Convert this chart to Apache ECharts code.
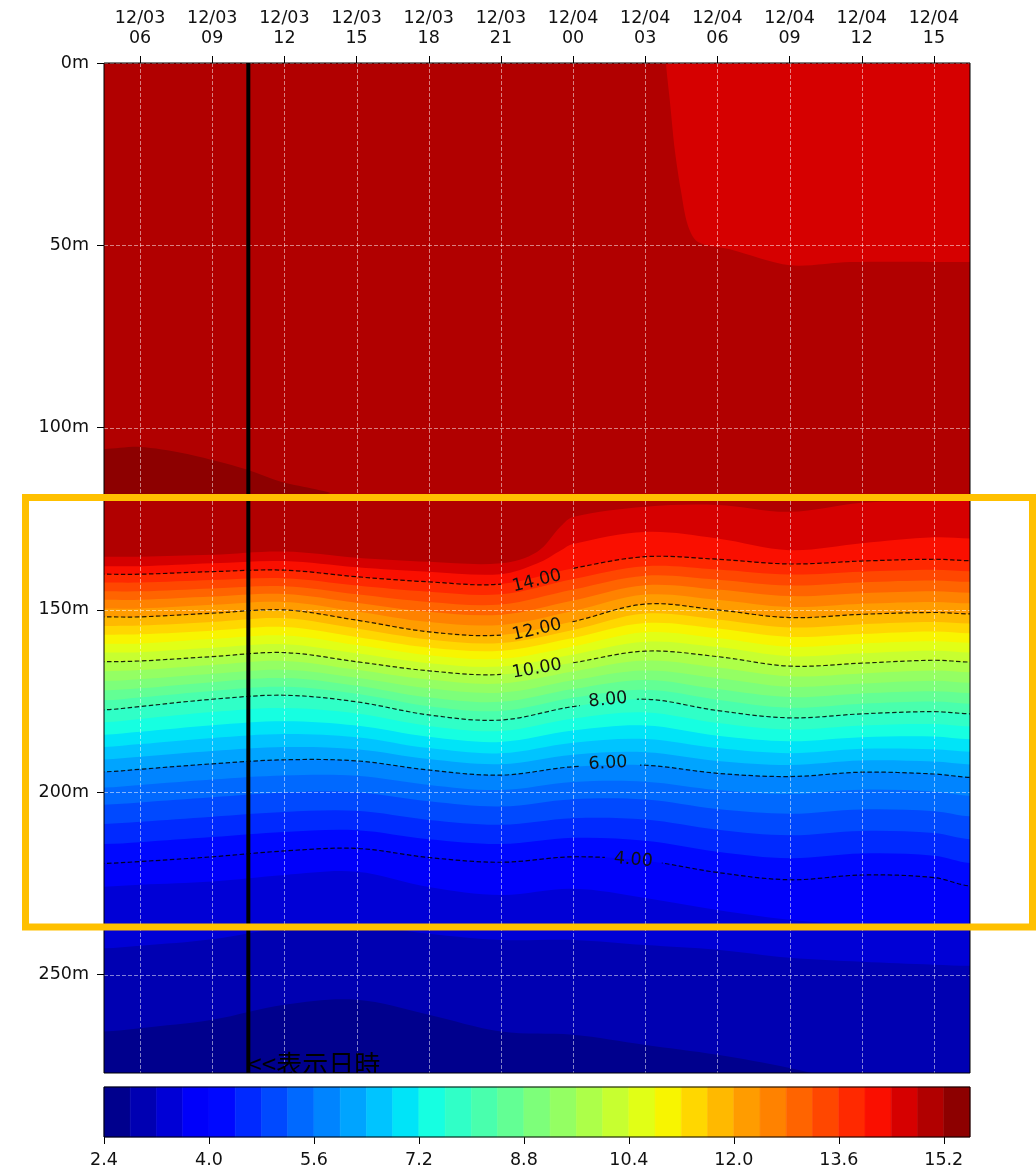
<!DOCTYPE html>
<html><head><meta charset="utf-8">
<script src="https://cdn.jsdelivr.net/npm/echarts@6/dist/echarts.min.js"></script>
<style>html,body{margin:0;padding:0;background:#fff;}#c{width:1036px;height:1172px;}</style>
</head><body><div id="c"></div>
<script>
// ================= DATA =================
// time = hours since 12/03 00:00 ; depth in metres
const timeMin = 4.5, timeMax = 40.5, depthMax = 277;
const timeNodes = [4.5, 6, 9, 12, 15, 18, 21, 24, 27, 30, 33, 36, 39, 40.5];
const topTimes  = [4.5, 6, 9, 12, 15, 18, 21, 22.5, 23.5, 24, 27, 30, 33, 36, 39, 40.5];

// isotherm depths (m)
const iso14_8 = [135.4,135.4,134.9,134.0,135.7,136.8,137.2,134.1,127.0,124.5,121.7,121.2,123.1,120.6,120.1,119.9];
const iso14_4 = [138.0,138.0,137.2,136.6,138.3,139.5,140.2,137.3,133.6,131.9,128.6,130.4,133.6,131.7,130.1,130.4];
const iso14_0 = [140.2,140.2,139.5,139.1,140.9,142.3,142.9,138.6,135.4,136.1,137.4,136.6,136.1,136.5];
const iso13_6 = [142.5,142.5,141.8,141.3,143.3,145.0,145.7,141.5,138.0,138.9,140.3,139.5,139.0,139.4];
const iso13_2 = [144.9,144.9,144.1,143.5,145.7,147.8,148.5,144.4,140.6,141.7,143.3,142.4,141.9,142.3];
const iso12_8 = [147.2,147.2,146.3,145.6,148.0,150.5,151.3,147.4,143.2,144.4,146.2,145.4,144.9,145.3];
const iso12_4 = [149.6,149.6,148.6,147.8,150.4,153.3,154.1,150.3,145.8,147.2,149.2,148.3,147.8,148.2];
const iso12_0 = [151.9,151.9,150.9,150.0,152.8,156.0,156.9,153.2,148.4,150.0,152.1,151.2,150.7,151.1];
const iso11_6 = [154.4,154.3,153.3,152.3,155.1,158.1,159.1,155.5,151.0,152.6,154.8,153.9,153.3,153.7];
const iso11_2 = [156.8,156.7,155.7,154.7,157.4,160.3,161.2,157.7,153.6,155.1,157.4,156.6,155.9,156.4];
const iso10_8 = [159.3,159.2,158.0,157.0,159.6,162.4,163.4,160.0,156.1,157.7,160.1,159.2,158.6,159.0];
const iso10_4 = [161.7,161.6,160.4,159.4,161.9,164.6,165.5,162.2,158.7,160.2,162.7,161.9,161.2,161.7];
const iso10_0 = [164.2,164.0,162.8,161.7,164.2,166.7,167.7,164.5,161.3,162.8,165.4,164.6,163.8,164.3];
const iso9_6  = [166.8,166.5,165.1,164.0,166.4,169.1,170.2,166.9,163.9,165.8,168.2,167.4,166.6,167.1];
const iso9_2  = [169.5,169.0,167.5,166.4,168.6,171.5,172.7,169.3,166.6,168.7,171.1,170.2,169.4,170.0];
const iso8_8  = [172.1,171.5,169.8,168.7,170.8,174.0,175.2,171.7,169.2,171.7,173.9,172.9,172.3,172.8];
const iso8_4  = [174.8,174.0,172.2,171.1,173.0,176.4,177.7,174.1,171.9,174.6,176.8,175.7,175.1,175.7];
const iso8_0  = [177.4,176.5,174.5,173.4,175.2,178.8,180.2,176.5,174.5,177.6,179.6,178.5,177.9,178.5];
const iso7_6  = [180.8,179.9,178.0,176.9,178.4,181.8,183.2,179.8,178.1,181.0,182.8,181.7,181.3,182.0];
const iso7_2  = [184.2,183.4,181.6,180.5,181.7,184.8,186.2,183.1,181.7,184.5,186.0,184.9,184.7,185.5];
const iso6_8  = [187.6,186.8,185.1,184.0,184.9,187.9,189.3,186.4,185.4,187.9,189.3,188.1,188.2,188.9];
const iso6_4  = [191.0,190.3,188.7,187.6,188.2,190.9,192.3,189.7,189.0,191.4,192.5,191.3,191.6,192.4];
const iso6_0  = [194.4,193.7,192.2,191.1,191.4,193.9,195.3,193.0,192.6,194.8,195.7,194.5,195.0,195.9];
const iso5_6  = [198.7,198.0,196.5,195.4,195.5,198.0,199.4,197.2,197.1,199.4,200.5,199.3,199.8,201.0];
const iso5_2  = [203.4,202.8,201.4,200.1,200.0,202.5,203.9,201.9,202.0,204.6,205.9,204.7,205.2,206.6];
const iso4_8  = [208.7,208.1,206.7,205.4,205.1,207.6,208.9,207.1,207.5,210.3,211.8,210.6,211.2,212.9];
const iso4_4  = [214.2,213.7,212.3,210.9,210.4,212.9,214.2,212.5,213.3,216.3,218.1,216.8,217.4,219.4];
const iso4_0  = [219.5,219.0,217.7,216.1,215.4,217.9,219.2,217.7,218.8,222.0,224.0,222.7,223.4,225.7];
const iso3_6  = [225.9,225.4,224.5,222.7,221.8,226.0,228.2,226.5,229.0,232.3,235.0,236.4,236.4,236.9];
const iso3_2  = [242.8,242.1,240.3,237.2,236.4,238.8,240.5,240.5,241.9,243.2,245.4,246.5,247.3,247.6];
const iso2_8  = [265.6,264.7,262.4,258.3,256.9,261.0,265.6,266.5,269.3,272.0,275.6,280.2,283.0,284.4];

// cooler surface patch (top right, 14.4-14.8) and warm pocket (top left, >15.2)
const patchTimes  = [27.8, 27.86, 28.02, 28.23, 28.48, 28.77, 29.19, 30.52, 33.01, 35.51, 40.5];
const patchDepths = [-8, 0, 10.2, 23.9, 34.9, 44.5, 49.1, 51.1, 55.5, 54.6, 54.6];
const pocketTimes  = [3, 4.5, 6, 7.8, 9.2, 10.4, 11.9, 13.3, 13.9, 12.6, 10.5, 4.5, 3];
const pocketDepths = [105.9, 105.9, 105.3, 107.0, 109.2, 111.4, 114.9, 116.9, 118.0, 118.8, 119.3, 119.6, 119.6];

// contour levels
const levels = [2.4,2.8,3.2,3.6,4.0,4.4,4.8,5.2,5.6,6.0,6.4,6.8,7.2,7.6,8.0,8.4,8.8,9.2,9.6,10.0,10.4,10.8,11.2,11.6,12.0,12.4,12.8,13.2,13.6,14.0,14.4,14.8,15.2,15.6];

// dashed labelled contours
const lineValues   = [14, 12, 10, 8, 6, 4];
const lineTexts    = ['14.00', '12.00', '10.00', '8.00', '6.00', '4.00'];
const lineLabelT   = [22.5, 22.5, 22.5, 25.45, 25.45, 26.5];
const lineLabelD   = [142.1, 155.5, 166.2, 174.7, 192.1, 218.6];
const lineGapStart = [21.0, 21.0, 21.0, 24.28, 24.28, 25.32];
const lineGapEnd   = [23.95, 23.95, 23.95, 26.65, 26.78, 27.69];
const lineRotDeg   = [14, 13, 10, 6, 3, -5];

// ticks
const xTickValues = [6, 9, 12, 15, 18, 21, 24, 27, 30, 33, 36, 39];
const xTickLabels = ['12/03\n06','12/03\n09','12/03\n12','12/03\n15','12/03\n18','12/03\n21','12/04\n00','12/04\n03','12/04\n06','12/04\n09','12/04\n12','12/04\n15'];
const yTickValues = [0, 50, 100, 150, 200, 250];
const cbTickValues = [2.4, 4.0, 5.6, 7.2, 8.8, 10.4, 12.0, 13.6, 15.2];

const displayTime = 10.5;
const displayText = '<<表示日時';

// ================= helpers =================
const isoDepthList = [iso14_8, iso14_4, iso14_0, iso13_6, iso13_2, iso12_8, iso12_4, iso12_0, iso11_6, iso11_2, iso10_8, iso10_4, iso10_0, iso9_6, iso9_2, iso8_8, iso8_4, iso8_0, iso7_6, iso7_2, iso6_8, iso6_4, iso6_0, iso5_6, iso5_2, iso4_8, iso4_4, iso4_0, iso3_6, iso3_2, iso2_8];
const isoLevelList = levels.slice(1, 32).reverse(); // 14.8 ... 2.8
const isotherms = isoDepthList.map((d, i) => ({ T: isoLevelList[i], times: d.length === topTimes.length ? topTimes : timeNodes, depths: d }));
const lineDepthList = [iso14_0, iso12_0, iso10_0, iso8_0, iso6_0, iso4_0];

const JR = [[0,0],[0.35,0],[0.66,1],[0.89,1],[1,0.5]];
const JG = [[0,0],[0.125,0],[0.375,1],[0.64,1],[0.91,0],[1,0]];
const JB = [[0,0.5],[0.11,1],[0.34,1],[0.65,0],[1,0]];
function seg(s, x){ for (let i = 1; i < s.length; i++){ if (x <= s[i][0]){ const a = s[i-1], b = s[i]; return a[1] + (b[1]-a[1])*(x-a[0])/(b[0]-a[0]); } } return s[s.length-1][1]; }
function jet(v){ const idx = Math.max(0, Math.min(255, Math.floor(v*256))); const x = idx/255;
  return 'rgb(' + Math.round(seg(JR,x)*255) + ',' + Math.round(seg(JG,x)*255) + ',' + Math.round(seg(JB,x)*255) + ')'; }
const lvMin = levels[0], lvMax = levels[levels.length-1];
function bandColor(lo, hi){ return jet(((lo+hi)/2 - lvMin)/(lvMax - lvMin)); }

const SMOOTH = 0.35;
function curvePoints(api, ts, ds){
  const pts = [api.coord([ts[0]-2.5, ds[0]])];
  for (let k = 0; k < ts.length; k++) pts.push(api.coord([ts[k], ds[k]]));
  pts.push(api.coord([ts[ts.length-1]+2.5, ds[ds.length-1]]));
  return pts;
}
const FONT = 'DejaVu Sans';

// ================= OPTION =================
const option = {
  animation: false,
  grid: [
    { left: 104, top: 63, width: 866, height: 1010, show: true, backgroundColor: bandColor(14.8, 15.2), borderWidth: 0, containLabel: false, outerBoundsMode: 'none' },
    { left: 104, top: 1087, width: 866, height: 50, show: false, containLabel: false, outerBoundsMode: 'none' }
  ],
  xAxis: [
    { gridIndex: 0, type: 'value', position: 'top', min: timeMin, max: timeMax,
      axisLine: { show: false },
      axisTick: { show: true, customValues: xTickValues, length: 7, lineStyle: { color: '#000', width: 1 } },
      axisLabel: { show: true, customValues: xTickValues, margin: 15, color: '#111', fontSize: 17.5, lineHeight: 20, fontFamily: FONT,
        formatter: v => { const i = xTickValues.indexOf(v); return i >= 0 ? xTickLabels[i] : ''; } },
      splitLine: { show: false } },
    { gridIndex: 1, type: 'value', position: 'bottom', min: lvMin, max: lvMax,
      axisLine: { show: false },
      axisTick: { show: true, customValues: cbTickValues, length: 7, lineStyle: { color: '#000', width: 1 } },
      axisLabel: { show: true, customValues: cbTickValues, margin: 14, color: '#111', fontSize: 17.5, fontFamily: FONT,
        formatter: v => Number(v).toFixed(1) },
      splitLine: { show: false } }
  ],
  yAxis: [
    { gridIndex: 0, type: 'value', inverse: true, min: 0, max: depthMax,
      axisLine: { show: false },
      axisTick: { show: true, customValues: yTickValues, length: 7, lineStyle: { color: '#000', width: 1 } },
      axisLabel: { show: true, customValues: yTickValues, margin: 15, color: '#111', fontSize: 17.5, fontFamily: FONT,
        formatter: v => v + 'm' },
      splitLine: { show: false } },
    { gridIndex: 1, type: 'value', min: 0, max: 1, show: false }
  ],
  series: [
    // colour bands
    { type: 'custom', name: 'bands', xAxisIndex: 0, yAxisIndex: 0, z: 2, clip: true, silent: true,
      data: isotherms.map((iso, i) => [iso.times[0], iso.depths[0], i]),
      renderItem: (params, api) => {
        const iso = isotherms[params.dataIndex];
        const pts = curvePoints(api, iso.times, iso.depths);
        const tl = iso.times[0] - 2.5, tr = iso.times[iso.times.length-1] + 2.5;
        pts.push(api.coord([tr, depthMax + 200]));
        pts.push(api.coord([tl, depthMax + 200]));
        const c = bandColor(iso.T - 0.4, iso.T);
        return { type: 'polygon', z2: params.dataIndex, shape: { points: pts, smooth: SMOOTH }, style: { fill: c } };
      } },
    // surface patch and warm pocket
    { type: 'custom', name: 'patches', xAxisIndex: 0, yAxisIndex: 0, z: 3, clip: true, silent: true,
      data: [[patchTimes[0], patchDepths[0], 0], [pocketTimes[0], pocketDepths[0], 1]],
      renderItem: (params, api) => {
        if (params.dataIndex === 0){
          const pts = patchTimes.map((t, k) => api.coord([t, patchDepths[k]]));
          const last = patchTimes.length - 1;
          pts.push(api.coord([patchTimes[last] + 2.5, patchDepths[last]]));
          pts.push(api.coord([patchTimes[last] + 2.5, -8]));
          return { type: 'polygon', shape: { points: pts, smooth: 0.3 }, style: { fill: bandColor(14.4, 14.8) } };
        }
        const pts = pocketTimes.map((t, k) => api.coord([t, pocketDepths[k]]));
        return { type: 'polygon', shape: { points: pts, smooth: 0.3 }, style: { fill: bandColor(15.2, 15.6) } };
      } },
    // grid lines
    { type: 'custom', name: 'gridlines', xAxisIndex: 0, yAxisIndex: 0, z: 4, clip: false, silent: true,
      data: [[timeMin, 0]],
      renderItem: (params, api) => {
        const cs = params.coordSys;
        const st = { stroke: 'rgba(255,255,255,0.5)', lineWidth: 1, lineDash: [4, 2] };
        const ch = [];
        xTickValues.forEach(t => { const x = Math.round(api.coord([t, 0])[0]) + 0.5;
          ch.push({ type: 'line', shape: { x1: x, y1: cs.y, x2: x, y2: cs.y + cs.height }, style: st }); });
        yTickValues.forEach(d => { const y = Math.round(api.coord([timeMin, d])[1]) + 0.5;
          ch.push({ type: 'line', shape: { x1: cs.x, y1: y, x2: cs.x + cs.width, y2: y }, style: st }); });
        return { type: 'group', children: ch };
      } },
    // dashed contours with labels
    { type: 'custom', name: 'contours', xAxisIndex: 0, yAxisIndex: 0, z: 5, clip: true, silent: true,
      data: lineValues.map((v, i) => [lineLabelT[i], lineLabelD[i], v]),
      renderItem: (params, api) => {
        const i = params.dataIndex;
        const cs = params.coordSys;
        const pts = curvePoints(api, timeNodes, lineDepthList[i]);
        const x0 = api.coord([lineGapStart[i], 0])[0];
        const x1 = api.coord([lineGapEnd[i], 0])[0];
        const st = { stroke: 'rgba(0,0,0,0.85)', lineWidth: 1.2, lineDash: [4.5, 2.5], fill: null };
        const lp = api.coord([lineLabelT[i], lineLabelD[i]]);
        return { type: 'group', children: [
          { type: 'polyline', shape: { points: pts, smooth: SMOOTH }, style: st,
            clipPath: { type: 'rect', shape: { x: cs.x - 5, y: cs.y - 5, width: x0 - cs.x + 5, height: cs.height + 10 } } },
          { type: 'polyline', shape: { points: pts, smooth: SMOOTH }, style: st,
            clipPath: { type: 'rect', shape: { x: x1, y: cs.y - 5, width: cs.x + cs.width - x1 + 5, height: cs.height + 10 } } },
          { type: 'text', x: lp[0], y: lp[1], rotation: lineRotDeg[i] * Math.PI / 180,
            style: { text: lineTexts[i], fill: '#111', font: '17.5px "' + FONT + '"', align: 'center', verticalAlign: 'middle' } }
        ] };
      } },
    // display-time marker
    { type: 'custom', name: 'marker', xAxisIndex: 0, yAxisIndex: 0, z: 6, clip: true, silent: true,
      data: [[displayTime, depthMax]],
      renderItem: (params, api) => {
        const top = api.coord([displayTime, 0]);
        const bot = api.coord([displayTime, depthMax]);
        return { type: 'group', children: [
          { type: 'line', shape: { x1: top[0], y1: top[1], x2: bot[0], y2: bot[1] }, style: { stroke: '#000', lineWidth: 4 } },
          { type: 'text', x: bot[0] - 1, y: bot[1] + 4, style: { text: displayText, fill: '#000', font: '26px "Noto Sans CJK JP"', align: 'left', verticalAlign: 'bottom' } }
        ] };
      } },
    // plot frame
    { type: 'custom', name: 'frame', xAxisIndex: 0, yAxisIndex: 0, z: 7, clip: false, silent: true,
      data: [[timeMin, 0]],
      renderItem: (params) => { const cs = params.coordSys;
        return { type: 'rect', shape: { x: cs.x, y: cs.y, width: cs.width, height: cs.height }, style: { fill: null, stroke: '#000', lineWidth: 1 } }; } },
    // colour bar
    { type: 'custom', name: 'colorbar', xAxisIndex: 1, yAxisIndex: 1, z: 2, clip: false, silent: true,
      data: levels.slice(0, -1).map((lo, i) => [lo, 0, levels[i+1]]),
      renderItem: (params, api) => {
        const i = params.dataIndex;
        const p0 = api.coord([levels[i], 1]);
        const p1 = api.coord([levels[i+1], 0]);
        const c = bandColor(levels[i], levels[i+1]);
        return { type: 'rect', shape: { x: p0[0], y: p0[1], width: p1[0] - p0[0], height: p1[1] - p0[1] }, style: { fill: c, stroke: c, lineWidth: 0.6 } };
      } },
    { type: 'custom', name: 'cbframe', xAxisIndex: 1, yAxisIndex: 1, z: 7, clip: false, silent: true,
      data: [[lvMin, 0]],
      renderItem: (params) => { const cs = params.coordSys;
        return { type: 'rect', shape: { x: cs.x, y: cs.y, width: cs.width, height: cs.height }, style: { fill: null, stroke: '#000', lineWidth: 1 } }; } }
  ],
  graphic: [
    { type: 'rect', z: 100, silent: true, shape: { x: 25.5, y: 497.5, width: 1007, height: 429.5 }, style: { fill: null, stroke: '#FFC000', lineWidth: 7 } }
  ]
};

const chart = echarts.init(document.getElementById('c'), null, { renderer: 'canvas', width: 1036, height: 1172 });
chart.setOption(option);
</script>
</body></html>
